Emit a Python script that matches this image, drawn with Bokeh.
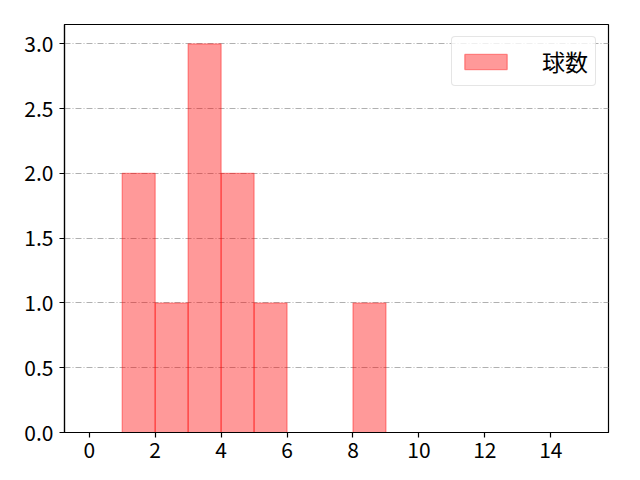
from bokeh.plotting import figure
from bokeh.models import FixedTicker, NumeralTickFormatter, Range1d, Legend, LegendItem, ColumnDataSource
from bokeh.embed import file_html
from bokeh.resources import INLINE

# data (histogram of 球数)
bin_left = [1, 2, 3, 4, 5, 8]
bin_right = [2, 3, 4, 5, 6, 9]
counts = [2, 1, 3, 2, 1, 1]
x_ticks = [0, 2, 4, 6, 8, 10, 12, 14]
y_ticks = [0.0, 0.5, 1.0, 1.5, 2.0, 2.5, 3.0]
series_label = "球数"

FONT = "Noto Sans CJK JP"

p = figure(width=624, height=464, output_backend="svg", toolbar_location=None,
           x_range=Range1d(-0.75, 15.75), y_range=Range1d(0, 3.15))
p.min_border_left = 64
p.min_border_right = 16
p.min_border_top = 24
p.min_border_bottom = 32
p.background_fill_color = "white"
p.border_fill_color = "white"
p.outline_line_color = "black"
p.outline_line_width = 1.2

src = ColumnDataSource(dict(left=bin_left, right=bin_right, top=counts, bottom=[0] * len(counts)))
r = p.quad(left="left", right="right", top="top", bottom="bottom", source=src,
           fill_color="red", fill_alpha=0.4, line_color="red", line_alpha=0.4, line_width=1.2)

p.xgrid.visible = False
p.ygrid.grid_line_color = "#b0b0b0"
p.ygrid.grid_line_dash = "6 2 1 2"
p.ygrid.grid_line_width = 1

for ax in (p.xaxis, p.yaxis):
    ax.axis_line_color = "black"
    ax.axis_line_width = 1.2
    ax.major_tick_line_color = "black"
    ax.major_tick_line_width = 1.2
    ax.major_tick_out = 5
    ax.major_tick_in = 0
    ax.minor_tick_line_color = None
    ax.major_label_text_font = FONT
    ax.major_label_text_font_size = "21px"
    ax.major_label_text_color = "black"

p.xaxis.ticker = FixedTicker(ticks=x_ticks)
p.yaxis.ticker = FixedTicker(ticks=y_ticks)
p.yaxis.formatter = NumeralTickFormatter(format="0.0")
p.xaxis.major_label_standoff = 4
p.yaxis.major_label_standoff = 6

legend = Legend(items=[LegendItem(label=series_label, renderers=[r])], location="top_right")
legend.label_text_font = FONT
legend.label_text_font_size = "23px"
legend.label_text_color = "black"
legend.glyph_width = 53
legend.glyph_height = 19
legend.label_height = 19
legend.label_standoff = 30
legend.padding = 7
legend.margin = 12
legend.border_line_color = "#cccccc"
legend.border_line_width = 1
legend.border_radius = 4
legend.background_fill_alpha = 0.8
p.add_layout(legend)

open("out.html", "w").write(file_html(p, INLINE))
